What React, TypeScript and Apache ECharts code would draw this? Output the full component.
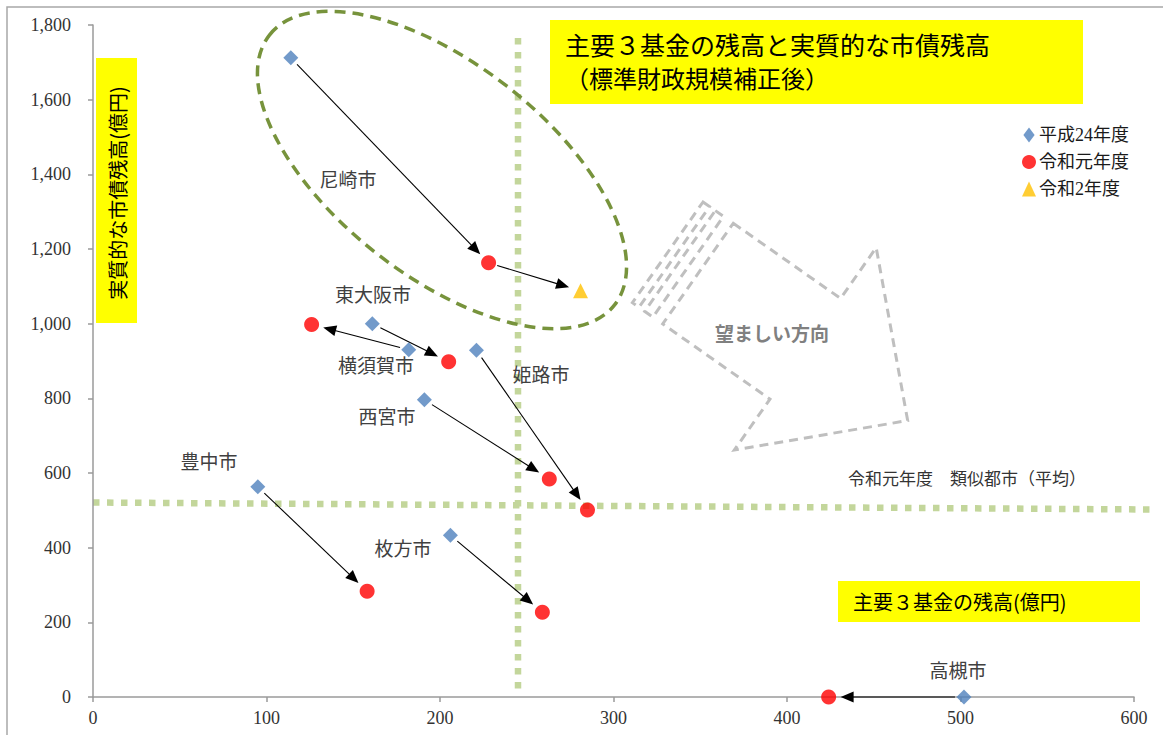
import React, { useEffect, useRef } from "react";
import * as echarts from "echarts";

// 主要3基金の残高（x）と実質的な市債残高（y）、単位：億円
const cities = ["尼崎市", "東大阪市", "横須賀市", "姫路市", "西宮市", "豊中市", "枚方市", "高槻市"];
const fundH24 = [114, 161, 182, 221, 191, 95, 206, 502];
const debtH24 = [1712, 1000, 930, 929, 796, 563, 433, 0];
const fundR1 = [228, 205, 126, 285, 263, 158, 259, 424];
const debtR1 = [1163, 898, 998, 501, 584, 283, 227, 0];
// 令和2年度は尼崎市のみ
const fundR2 = [281];
const debtR2 = [1088];

const seriesNames = ["平成24年度", "令和元年度", "令和2年度"];
const xTicks = { min: 0, max: 600, interval: 100 };
const yTicks = { min: 0, max: 1800, interval: 200 };

// 市名ラベルの位置（px）
const cityLabelPos: [number, number][] = [
  [348, 178],
  [373, 293],
  [376, 364],
  [541, 373],
  [387, 415],
  [209, 460],
  [403, 547],
  [958, 669],
];

const JP = "'Noto Sans CJK JP', 'Noto Sans', sans-serif";
const SERIF = "'Liberation Serif', 'Noto Sans CJK JP', serif";

function buildArrows(): number[][] {
  const list: number[][] = cities.map((_, i) => [fundH24[i], debtH24[i], fundR1[i], debtR1[i]]);
  list.push([fundR1[0], debtR1[0], fundR2[0], debtR2[0]]);
  return list;
}

// 「望ましい方向」の縞模様付き矢印（矢印の向きに沿ったローカル座標）
function directionArrow(): any {
  const dash = { stroke: "#BFBFBF", lineWidth: 3, lineDash: [9, 6], fill: "none" };
  const w = 123;
  return {
    type: "group",
    x: 703,
    y: 202,
    rotation: (-35 * Math.PI) / 180,
    children: [
      { type: "polygon", shape: { points: [[0, 0], [8, 0], [8, w], [0, w]] }, style: dash },
      { type: "polygon", shape: { points: [[15, 0], [25, 0], [25, w], [15, w]] }, style: dash },
      {
        type: "polygon",
        shape: {
          points: [
            [37, 0],
            [168, 0],
            [168, -62],
            [293, 61.5],
            [168, 185],
            [168, w],
            [37, w],
          ],
        },
        style: dash,
      },
    ],
  };
}

export default function App() {
  const ref = useRef<HTMLDivElement>(null);

  useEffect(() => {
    if (!ref.current) return;
    const chart = echarts.init(ref.current, undefined, { renderer: "svg" });

    const arrows = buildArrows();

    const option: any = {
      animation: false,
      backgroundColor: "#ffffff",
      grid: { left: 93, right: 29, top: 25, bottom: 38, containLabel: false },
      legend: {
        orient: "vertical",
        left: 1017,
        top: 121,
        itemWidth: 14,
        itemHeight: 15,
        itemGap: 9,
        symbolKeepAspect: true,
        textStyle: { fontSize: 18, color: "#1a1a1a", fontFamily: SERIF, padding: [0, 0, 0, -2] },
        data: [
          { name: seriesNames[0], icon: "path://M6,0 L12,8 L6,16 L0,8 Z" },
          { name: seriesNames[1], icon: "circle" },
          { name: seriesNames[2], icon: "triangle" },
        ],
      },
      xAxis: {
        type: "value",
        ...xTicks,
        splitLine: { show: false },
        axisLine: { lineStyle: { color: "#9a9a9a", width: 1.5 } },
        axisTick: { show: true, length: 5, lineStyle: { color: "#9a9a9a", width: 1.5 } },
        axisLabel: { margin: 12, fontSize: 18, color: "#333", fontFamily: SERIF },
      },
      yAxis: {
        type: "value",
        ...yTicks,
        splitLine: { show: false },
        axisLine: { show: true, lineStyle: { color: "#9a9a9a", width: 1.5 } },
        axisTick: { show: true, length: 5, lineStyle: { color: "#9a9a9a", width: 1.5 } },
        axisLabel: {
          margin: 22,
          fontSize: 18,
          color: "#333",
          fontFamily: SERIF,
          formatter: (v: number) => v.toLocaleString("en-US"),
        },
      },
      series: [
        {
          type: "custom",
          name: "arrows",
          silent: true,
          clip: false,
          z: 1,
          encode: { x: [0, 2], y: [1, 3] },
          data: arrows,
          renderItem: (_params: any, api: any) => {
            const p1 = api.coord([api.value(0), api.value(1)]);
            const p2 = api.coord([api.value(2), api.value(3)]);
            const dx = p2[0] - p1[0];
            const dy = p2[1] - p1[1];
            const len = Math.sqrt(dx * dx + dy * dy) || 1;
            const ux = dx / len;
            const uy = dy / len;
            const startGap = 9;
            const endGap = 12;
            const headLen = 13;
            const headHalf = 5.5;
            const sx = p1[0] + ux * startGap;
            const sy = p1[1] + uy * startGap;
            const tx = p2[0] - ux * endGap;
            const ty = p2[1] - uy * endGap;
            const bx = tx - ux * headLen;
            const by = ty - uy * headLen;
            return {
              type: "group",
              children: [
                {
                  type: "line",
                  shape: { x1: sx, y1: sy, x2: bx + ux * 2, y2: by + uy * 2 },
                  style: { stroke: "#000", lineWidth: 1.1 },
                },
                {
                  type: "polygon",
                  shape: {
                    points: [
                      [tx, ty],
                      [bx - uy * headHalf, by + ux * headHalf],
                      [bx + uy * headHalf, by - ux * headHalf],
                    ],
                  },
                  style: { fill: "#000" },
                },
              ],
            };
          },
        },
        {
          type: "scatter",
          name: seriesNames[0],
          symbol: "diamond",
          symbolSize: 15,
          z: 3,
          itemStyle: { color: "#4F81BD" },
          data: fundH24.map((x, i) => [x, debtH24[i]]),
        },
        {
          type: "scatter",
          name: seriesNames[1],
          symbol: "circle",
          symbolSize: 15,
          z: 3,
          clip: false,
          itemStyle: { color: "#FF0000" },
          data: fundR1.map((x, i) => [x, debtR1[i]]),
        },
        {
          type: "scatter",
          name: seriesNames[2],
          symbol: "triangle",
          symbolSize: 15,
          z: 3,
          itemStyle: { color: "#FFC000" },
          data: fundR2.map((x, i) => [x, debtR2[i]]),
        },
      ],
      graphic: [
        // 外枠
        {
          type: "rect",
          z: -10,
          shape: { x: 7, y: 7, width: 1175, height: 760 },
          style: { fill: "none", stroke: "#a8a8a8", lineWidth: 1.5 },
          silent: true,
        },
        // 類似都市平均の補助線
        {
          type: "line",
          z: 0,
          shape: { x1: 518, y1: 38, x2: 518, y2: 693 },
          style: { stroke: "#C3D69B", lineWidth: 6.5, lineDash: [6.5, 7.5] },
          silent: true,
        },
        {
          type: "line",
          z: 0,
          shape: { x1: 93, y1: 502.5, x2: 1150, y2: 509.5 },
          style: { stroke: "#C3D69B", lineWidth: 6.5, lineDash: [6.5, 7.5] },
          silent: true,
        },
        {
          type: "text",
          x: 848,
          y: 477,
          style: {
            text: "令和元年度　類似都市（平均）",
            fontSize: 17,
            fill: "#333",
            fontFamily: JP,
            align: "left",
            verticalAlign: "middle",
          },
        },
        // 尼崎市を囲む楕円
        {
          type: "ellipse",
          x: 442,
          y: 170,
          rotation: (-38 * Math.PI) / 180,
          shape: { cx: 0, cy: 0, rx: 219, ry: 106 },
          style: { fill: "none", stroke: "#77933C", lineWidth: 3.5, lineDash: [11, 7] },
          silent: true,
        },
        directionArrow(),
        {
          type: "text",
          x: 772,
          y: 332,
          style: {
            text: "望ましい方向",
            fontSize: 19,
            fontWeight: "bold",
            fill: "#808080",
            fontFamily: JP,
            align: "center",
            verticalAlign: "middle",
          },
        },
        // タイトル
        {
          type: "rect",
          shape: { x: 550, y: 20, width: 533, height: 84 },
          style: { fill: "#FFFF00" },
          silent: true,
        },
        {
          type: "text",
          x: 565,
          y: 44,
          style: {
            text: "主要３基金の残高と実質的な市債残高",
            fontSize: 25,
            fill: "#000",
            fontFamily: JP,
            align: "left",
            verticalAlign: "middle",
          },
        },
        {
          type: "text",
          x: 565,
          y: 77,
          style: {
            text: "（標準財政規模補正後）",
            fontSize: 24,
            fill: "#000",
            fontFamily: JP,
            align: "left",
            verticalAlign: "middle",
          },
        },
        // y軸名
        {
          type: "rect",
          shape: { x: 96, y: 58, width: 41, height: 265 },
          style: { fill: "#FFFF00" },
          silent: true,
        },
        {
          type: "text",
          x: 117,
          y: 193,
          rotation: Math.PI / 2,
          style: {
            text: "実質的な市債残高(億円)",
            fontSize: 20,
            fill: "#000",
            fontFamily: JP,
            align: "center",
            verticalAlign: "middle",
          },
        },
        // x軸名
        {
          type: "rect",
          shape: { x: 838, y: 581, width: 302, height: 41 },
          style: { fill: "#FFFF00" },
          silent: true,
        },
        {
          type: "text",
          x: 853,
          y: 601,
          style: {
            text: "主要３基金の残高(億円)",
            fontSize: 20,
            fill: "#000",
            fontFamily: JP,
            align: "left",
            verticalAlign: "middle",
          },
        },
        // 市名
        ...cities.map((name, i) => ({
          type: "text",
          x: cityLabelPos[i][0],
          y: cityLabelPos[i][1],
          style: {
            text: name,
            fontSize: 19,
            fill: "#404040",
            fontFamily: JP,
            align: "center",
            verticalAlign: "middle",
          },
        })),
      ],
    };

    chart.setOption(option);
    return () => {
      chart.dispose();
    };
  }, []);

  return (
    <div
      ref={ref}
      style={{ position: "fixed", left: 0, top: 0, width: 1163, height: 735, background: "#fff" }}
    />
  );
}
